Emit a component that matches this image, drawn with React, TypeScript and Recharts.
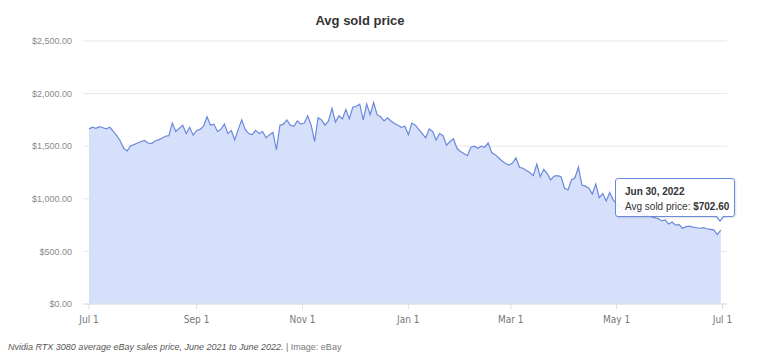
import { Area, AreaChart, CartesianGrid, Tooltip, XAxis, YAxis } from "recharts";

// avg sold price, one reading every 2 days from Jul 1 2021 to Jun 30 2022
const prices = [
  1665, 1680, 1670, 1685, 1675, 1665, 1680, 1640, 1600, 1550,
  1480, 1455, 1505, 1515, 1530, 1545, 1555, 1530, 1525, 1550,
  1560, 1575, 1595, 1600, 1720, 1640, 1670, 1700, 1620, 1680,
  1605, 1650, 1660, 1690, 1780, 1700, 1710, 1640, 1660, 1710,
  1620, 1650, 1560, 1660, 1750, 1660, 1620, 1610, 1650, 1620,
  1640, 1580, 1610, 1630, 1465, 1700, 1710, 1750, 1700, 1690,
  1740, 1710, 1720, 1790, 1700, 1545, 1770, 1750, 1700, 1740,
  1860, 1730, 1790, 1760, 1850, 1760, 1870, 1880, 1900, 1750,
  1900, 1800, 1915, 1800, 1780, 1740, 1770, 1740, 1715, 1700,
  1680, 1690, 1610, 1720, 1700, 1660, 1620, 1580, 1665, 1640,
  1560, 1620, 1600, 1510, 1545, 1570, 1480, 1450, 1430, 1410,
  1490, 1500, 1480, 1500, 1490, 1530, 1440, 1420, 1390, 1360,
  1335, 1320, 1340, 1390, 1300, 1290, 1270, 1250, 1220, 1330,
  1210, 1280, 1240, 1180, 1215, 1220, 1210, 1100, 1085, 1180,
  1200, 1300, 1130, 1120, 1100, 1045, 1140, 1010, 1050, 980,
  1060, 990, 950, 930, 920, 900, 890, 880, 860, 870,
  850, 840, 830, 820, 810, 790, 800, 760, 780, 750,
  755, 720, 735, 740, 730, 725, 720, 725, 715, 710,
  705, 660, 702.6,
];

const startDate = Date.UTC(2021, 6, 1);
const dayStep = 2;
const monthNames = ["Jan", "Feb", "Mar", "Apr", "May", "Jun", "Jul", "Aug", "Sep", "Oct", "Nov", "Dec"];

// x ticks: days since Jul 1 2021
const tickDays = [0, 62, 123, 184, 243, 304, 365];
const tickLabels = ["Jul 1", "Sep 1", "Nov 1", "Jan 1", "Mar 1", "May 1", "Jul 1"];
const priceTicks = [0, 500, 1000, 1500, 2000, 2500];

const data = prices.map((price, i) => ({ day: i * dayStep, price }));

const fmtMoney = (v: number) =>
  "$" + v.toLocaleString("en-US", { minimumFractionDigits: 2, maximumFractionDigits: 2 });

const fmtDate = (day: number) => {
  const d = new Date(startDate + day * 86400000);
  return `${monthNames[d.getUTCMonth()]} ${d.getUTCDate()}, ${d.getUTCFullYear()}`;
};

const LINE = "#6a89da";
const FILL = "#d6e0fb";

function PriceTip({ payload }: any) {
  if (!payload || !payload.length) return null;
  const p = payload[0].payload;
  return (
    <div style={{ position: "relative", fontFamily: "'Liberation Sans', Arial, sans-serif" }}>
      <div
        style={{
          width: 120,
          height: 39,
          boxSizing: "border-box",
          background: "rgba(255,255,255,0.88)",
          border: `1px solid ${LINE}`,
          borderRadius: 3,
          padding: "5px 0 0 9px",
          color: "#333",
          fontSize: 10,
          lineHeight: "15px",
          whiteSpace: "nowrap",
          boxShadow: "1px 1px 2px rgba(0,0,0,0.12)",
        }}
      >
        <div style={{ fontWeight: "bold" }}>{fmtDate(p.day)}</div>
        <div>
          Avg sold price: <b>{fmtMoney(p.price)}</b>
        </div>
      </div>
      <div
        style={{
          position: "absolute",
          left: 100,
          top: 38,
          width: 0,
          height: 0,
          borderLeft: "5px solid transparent",
          borderRight: "5px solid transparent",
          borderTop: `6px solid ${LINE}`,
        }}
      />
      <div
        style={{
          position: "absolute",
          left: 101,
          top: 37,
          width: 0,
          height: 0,
          borderLeft: "4px solid transparent",
          borderRight: "4px solid transparent",
          borderTop: "5px solid rgba(255,255,255,0.95)",
        }}
      />
    </div>
  );
}

export default function App() {
  return (
    <div
      style={{
        position: "absolute",
        left: 0,
        top: 0,
        width: 767,
        height: 360,
        background: "#fff",
        fontFamily: "'Liberation Sans', Arial, sans-serif",
      }}
    >
      <div
        style={{
          position: "absolute",
          left: 0,
          top: 13,
          width: 720,
          textAlign: "center",
          fontSize: 13,
          fontWeight: "bold",
          color: "#333",
        }}
      >
        Avg sold price
      </div>
      <AreaChart width={767} height={330} data={data} margin={{ top: 41, right: 40, left: 0, bottom: 6 }}>
        <CartesianGrid vertical={false} stroke="#e8e8e8" />
        <XAxis
          dataKey="day"
          type="number"
          domain={[-3.46, 367.6]}
          ticks={tickDays}
          tickFormatter={(d: number) => tickLabels[tickDays.indexOf(d)]}
          tick={{ fontSize: 10, fill: "#777", fontFamily: "'Liberation Sans Narrow', 'DejaVu Sans Condensed', Arial, sans-serif" }}
          tickLine={{ stroke: "#ddd" }}
          tickSize={5}
          tickMargin={7}
          axisLine={{ stroke: "#e0e0e0" }}
          height={20}
          interval={0}
        />
        <YAxis
          domain={[0, 2500]}
          ticks={priceTicks}
          tickFormatter={fmtMoney}
          tick={{ fontSize: 9, fill: "#8a8a8a" }}
          tickLine={false}
          axisLine={false}
          tickSize={6}
          tickMargin={5}
          width={83}
        />
        <Tooltip
          content={<PriceTip />}
          active
          defaultIndex={data.length - 1}
          position={{ x: 615, y: 178 }}
          cursor={false}
          isAnimationActive={false}
          wrapperStyle={{ outline: "none" }}
        />
        <Area
          type="linear"
          dataKey="price"
          stroke={LINE}
          strokeWidth={1.2}
          fill={FILL}
          fillOpacity={1}
          dot={false}
          activeDot={false}
          isAnimationActive={false}
        />
      </AreaChart>
      <div style={{ position: "absolute", left: 8, top: 342, fontSize: 9, color: "#555", whiteSpace: "nowrap" }}>
        <i>Nvidia RTX 3080 average eBay sales price, June 2021 to June 2022.</i>
        <span style={{ color: "#777" }}> | Image: eBay</span>
      </div>
    </div>
  );
}
